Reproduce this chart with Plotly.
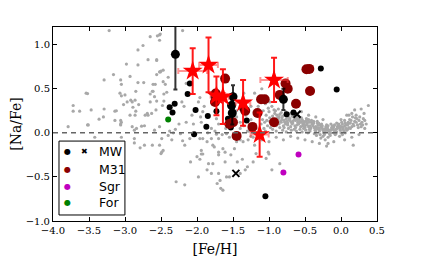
import plotly.graph_objects as go

# ---------------- data ----------------
# Milky Way field stars (grey dots): (Fe/H, Na/Fe)
field_pairs = [
    (-3.22,1.16),(-2.65,1.09),(-2.52,1.11),(-2.52,1.05),(-2.75,0.99),(-2.82,0.94),(-2.68,0.83),(-2.56,0.83),
    (-2.98,0.78),(-2.82,0.77),(-2.52,0.69),(-2.50,0.70),(-2.56,0.66),(-3.16,0.66),(-2.93,0.64),(-3.29,0.60),
    (-3.06,0.60),(-3.05,0.55),(-2.82,0.57),(-2.74,0.57),(-2.61,0.55),(-2.47,0.58),(-2.85,0.47),(-2.62,0.47),
    (-3.54,0.45),(-3.07,0.45),(-3.05,0.42),(-3.00,0.43),(-2.65,0.44),(-2.59,0.41),(-2.97,0.35),(-2.92,0.37),
    (-2.90,0.35),(-2.86,0.37),(-2.65,0.35),(-3.02,0.32),(-2.81,0.32),(-2.89,0.29),(-2.48,0.31),(-2.57,0.26),
    (-3.72,0.245),(-3.47,0.26),(-3.29,0.27),(-3.14,0.245),(-3.12,0.25),(-2.85,0.245),(-2.93,0.20),(-2.86,0.20),
    (-2.69,0.22),(-2.68,0.20),(-2.63,0.22),(-2.72,0.20),(-3.30,0.18),(-3.36,0.155),(-3.14,0.14),(-3.06,0.14),
    (-3.06,0.10),(-3.51,0.09),(-3.52,0.09),(-3.05,0.12),(-3.06,0.09),(-2.77,0.075),(-2.84,0.05),(-2.87,0.03),
    (-2.90,0.07),(-2.73,0.08),(-3.79,0.07),(-2.59,0.03),(-2.52,0.07),(-3.42,-0.05),(-3.05,-0.05),(-2.87,-0.065),
    (-2.87,-0.115),(-2.73,-0.14),(-2.62,-0.14),(-2.79,-0.17),(-2.50,-0.235),(-2.52,-0.14),(-3.63,0.245),
    (-3.72,0.31),(-3.52,0.445),
    (-2.20,1.16),(-2.51,1.12),(-2.55,1.10),(-2.56,0.82),(-2.51,0.69),(-2.47,0.71),(-2.40,0.63),(-2.44,0.55),
    (-2.58,0.55),(-2.61,0.47),(-2.46,0.44),(-2.42,0.46),(-2.56,0.36),(-2.46,0.36),(-2.21,0.35),(-1.96,0.40),
    (-2.07,0.20),(-1.92,0.24),(-1.73,0.16),(-1.94,0.12),(-2.15,0.56),
    (-2.49,-0.22),(-2.47,-0.20),(-2.49,-0.065),(-2.40,-0.03),(-2.38,0.02),(-2.33,0.00),(-2.35,-0.08),
    (-2.30,0.04),(-2.23,-0.01),(-2.20,-0.09),(-2.17,-0.14),(-2.10,-0.065),(-2.29,-0.555),(-2.17,-0.59),
    (-2.09,-0.33),(-2.00,-0.27),(-1.98,-0.50),(-1.96,-0.30),(-1.94,-0.20),(-1.94,-0.24),(-1.92,-0.24),
    (-1.86,-0.10),(-1.96,-0.065),(-1.92,-0.065),(-1.84,-0.35),(-1.78,-0.35),(-1.80,-0.46),(-1.78,-0.14),
    (-1.76,-0.16),(-1.73,-0.015),(-1.70,-0.065),(-1.70,-0.22),(-1.70,-0.25),(-1.64,-0.18),(-1.59,-0.01),
    (-1.61,-0.22),(-1.61,-0.33),(-1.70,-0.46),(-1.72,-0.575),(-1.67,-0.63),(-1.64,-0.65),(-1.68,-0.54),
    (-1.53,-0.25),(-1.48,-0.18),(-1.44,-0.33),(-1.37,-0.30),(-1.40,-0.46),(-1.33,-0.42),(-1.30,-0.385),
    (-1.22,-0.33),(-1.18,-0.235),(-1.29,-0.08),(-1.36,-0.10),(-1.40,-0.08),(-1.20,-0.14),(-1.14,-0.065),
    (-1.25,-0.04),(-1.80,-0.065),(-1.59,-0.50),(-1.04,-0.29),(-1.01,-0.22),(-1.86,-0.42),(-1.55,-0.50),
    (-0.85,-0.35),(-0.96,-0.42),(-1.00,-0.24),
    (-1.98,0.35),(-1.90,0.30),(-1.80,0.05),(-1.70,0.10),(-1.60,0.05),(-1.45,0.25),(-1.40,0.05),(-1.30,0.02),
    (-1.25,0.30),(-1.20,0.45),(-1.10,0.50),(-1.35,0.45),(-2.18,0.30),(-2.25,0.10),(-2.15,0.12),(-2.05,0.10),
    (-1.95,0.18),(-1.85,0.00),(-1.75,0.02),(-1.65,-0.02),(-1.55,-0.05),(-1.45,-0.10),
    (-1.20,0.10),(-1.18,0.05),(-1.25,0.15),(-1.15,0.30),(-1.22,-0.05),(-1.28,0.02),(-1.35,0.08),(-1.40,0.12),
    (-1.45,0.18),(-1.32,0.20),(-1.05,0.33),(-0.99,0.35),(-1.10,-0.08),(-1.00,-0.10),(-0.90,-0.05),(-0.80,-0.08),
    (-0.70,-0.04),(-0.60,-0.06),(-0.50,-0.08),(-0.40,-0.10),(-0.30,-0.12),(-0.20,-0.15),(-0.10,-0.10),
    (0.05,-0.08),(0.15,-0.05),(0.25,-0.02),(-0.55,0.24),(-0.45,0.20),(-0.35,0.18),(-0.25,0.15),(0.00,0.15),
    (0.28,0.27),(0.33,0.05),(-0.18,-0.12),(0.08,0.20),(0.19,0.26),(0.17,-0.14),
    (-1.13,0.18),(-1.11,0.10),(-1.12,0.22),
    (-1.09,0.15),(-1.07,0.05),(-1.08,0.25),(-1.06,0.12),
    (-1.04,0.20),(-1.02,0.08),(-1.03,0.14),(-1.01,0.28),(-1.05,0.02),
    (-0.99,0.17),(-0.97,0.11),(-1.00,0.24),(-0.98,0.06),(-0.96,0.30),(-0.99,0.13),
    (-0.95,0.19),(-0.93,0.09),(-0.94,0.15),(-0.92,0.22),(-0.95,0.04),(-0.93,0.26),
    (-0.91,0.14),(-0.89,0.20),(-0.90,0.08),(-0.88,0.17),(-0.91,0.25),(-0.89,0.11),(-0.90,0.02),
    (-0.87,0.16),(-0.85,0.21),(-0.86,0.10),(-0.84,0.13),(-0.87,0.27),(-0.85,0.06),(-0.86,0.18),
    (-0.83,0.12),(-0.81,0.19),(-0.82,0.15),(-0.80,0.08),(-0.83,0.23),(-0.81,0.03),(-0.82,0.17),
    (-0.79,0.14),(-0.77,0.10),(-0.78,0.20),(-0.76,0.16),(-0.79,0.06),(-0.77,0.24),(-0.78,0.12),(-0.76,0.01),
    (-0.75,0.13),(-0.73,0.18),(-0.74,0.09),(-0.72,0.15),(-0.75,0.21),(-0.73,0.05),(-0.74,0.11),
    (-0.71,0.16),(-0.69,0.12),(-0.70,0.07),(-0.68,0.19),(-0.71,0.14),(-0.69,0.03),(-0.70,0.22),(-0.68,0.10),
    (-0.67,0.11),(-0.65,0.15),(-0.66,0.18),(-0.64,0.08),(-0.67,0.13),(-0.65,0.04),(-0.66,0.20),
    (-0.63,0.14),(-0.61,0.09),(-0.62,0.17),(-0.60,0.12),(-0.63,0.06),(-0.61,0.19),(-0.62,0.02),(-0.60,0.15),
    (-0.59,0.10),(-0.57,0.13),(-0.58,0.16),(-0.56,0.07),(-0.59,0.19),(-0.57,0.04),(-0.58,0.11),
    (-0.55,0.12),(-0.53,0.08),(-0.54,0.15),(-0.52,0.05),(-0.55,0.17),(-0.53,0.10),(-0.54,0.01),(-0.52,0.13),
    (-0.51,0.09),(-0.49,0.13),(-0.50,0.06),(-0.48,0.16),(-0.51,0.11),(-0.49,0.03),(-0.50,0.08),
    (-0.47,0.11),(-0.45,0.07),(-0.46,0.14),(-0.44,0.04),(-0.47,0.09),(-0.45,0.15),(-0.46,0.00),(-0.44,0.12),
    (-0.43,0.08),(-0.41,0.12),(-0.42,0.05),(-0.40,0.10),(-0.43,0.02),(-0.41,0.14),(-0.42,0.06),
    (-0.39,0.10),(-0.37,0.06),(-0.38,0.13),(-0.36,0.03),(-0.39,0.08),(-0.37,-0.01),(-0.38,0.11),(-0.36,0.05),
    (-0.35,0.07),(-0.33,0.11),(-0.34,0.04),(-0.32,0.09),(-0.35,0.01),(-0.33,0.13),(-0.34,-0.03),(-0.32,0.06),
    (-0.31,0.05),(-0.29,0.09),(-0.30,0.02),(-0.28,0.07),(-0.31,0.11),(-0.29,-0.02),(-0.30,0.04),(-0.28,-0.06),
    (-0.27,0.06),(-0.25,0.03),(-0.26,0.08),(-0.24,0.00),(-0.27,0.10),(-0.25,-0.04),(-0.26,0.05),(-0.24,0.01),
    (-0.23,0.04),(-0.21,0.07),(-0.22,0.01),(-0.20,0.09),(-0.23,-0.02),(-0.21,0.05),(-0.22,-0.08),(-0.20,0.03),
    (-0.19,0.05),(-0.17,0.02),(-0.18,0.08),(-0.16,-0.01),(-0.19,0.06),(-0.17,0.03),(-0.18,-0.05),
    (-0.15,0.03),(-0.13,0.06),(-0.14,0.00),(-0.12,0.08),(-0.15,-0.03),(-0.13,0.04),(-0.14,0.10),
    (-0.11,0.05),(-0.09,0.02),(-0.10,0.07),(-0.08,-0.02),(-0.11,0.04),(-0.09,0.09),(-0.10,0.00),
    (-0.07,0.04),(-0.05,0.07),(-0.06,0.01),(-0.04,0.09),(-0.07,-0.01),(-0.05,0.05),(-0.06,0.11),
    (-0.03,0.06),(-0.01,0.03),(-0.02,0.08),(0.00,0.00),(-0.03,0.10),(-0.01,0.05),(-0.02,-0.04),
    (0.01,0.07),(0.03,0.04),(0.02,0.10),(0.04,0.02),(0.01,0.12),(0.03,0.06),(0.02,-0.02),
    (0.05,0.08),(0.07,0.05),(0.06,0.11),(0.08,0.03),(0.05,0.14),(0.07,0.09),(0.06,0.00),
    (0.09,0.09),(0.11,0.06),(0.10,0.12),(0.12,0.15),(0.09,0.04),(0.11,0.20),(0.10,0.10),
    (0.13,0.11),(0.15,0.07),(0.14,0.14),(0.16,0.18),(0.13,0.05),(0.15,0.22),
    (0.17,0.10),(0.19,0.13),(0.18,0.08),(0.20,0.17),
    (0.21,0.12),(0.23,0.09),(0.22,0.16),(0.24,0.06),(0.21,0.20),
    (0.25,0.14),(0.27,0.10),(0.26,0.18),(0.28,0.07),
    (0.29,0.12),(0.31,0.16),(0.30,0.09),(0.32,0.22),
    (0.33,0.14),(0.35,0.10),(0.38,0.31),
]
field_feh = [p[0] for p in field_pairs]
field_nafe = [p[1] for p in field_pairs]

# MW globular clusters, small filled circles
mw_feh = [-0.28, -0.06, -2.10, -2.13, -2.38, -2.34, -2.31, -2.02, -1.85, -1.87, -2.04,
          -1.05, -0.755, -0.66, -1.31, -1.53, -1.73, -1.77, -1.37, -1.57]
mw_nafe = [0.73, 0.49, 0.56, 0.44, 0.29, 0.23, 0.33, 0.26, 0.19, 0.07, -0.015,
           -0.72, 0.21, 0.23, 0.14, 0.06, 0.245, 0.41, 0.27, 0.16]

# MW clusters with error bars (large filled circles)
mwbig_feh = [-2.30, -1.50, -1.52, -1.51, -0.80]
mwbig_nafe = [0.89, 0.41, 0.31, 0.225, 0.38]
mwbig_err = [0.40, 0.13, 0.13, 0.13, 0.12]

# MW clusters, crosses
mwx_feh = [-1.46, -0.61]
mwx_nafe = [-0.46, 0.21]

# M31 clusters (integrated light)
m31_feh = [-0.48, -0.44, -0.43, -0.77, -0.74, -0.85, -0.625, -0.93, -1.11, -1.06, -1.16,
           -1.23, -1.45, -1.55, -1.61, -1.75, -1.74, -1.33, -1.50]
m31_nafe = [0.72, 0.725, 0.475, 0.56, 0.50, 0.43, 0.33, 0.12, 0.38, 0.38, 0.225,
            0.067, -0.035, 0.10, 0.615, 0.35, 0.445, 0.25, 0.12]

# Sgr and Fornax
sgr_feh = [-0.59, -0.80]
sgr_nafe = [-0.245, -0.45]
for_feh = [-2.40]
for_nafe = [0.15]

# red stars with error bars
star_feh = [-2.06, -1.84, -1.73, -1.64, -1.36, -1.13, -0.93]
star_nafe = [0.70, 0.77, 0.42, 0.41, 0.34, -0.02, 0.60]
star_xerr = [0.20, 0.13, 0.08, 0.08, 0.10, 0.125, 0.19]
star_yerr = [0.26, 0.31, 0.22, 0.31, 0.26, 0.25, 0.25]

legend_labels = ["MW", "M31", "Sgr", "For"]

# ---------------- figure ----------------
fig = go.Figure()

fig.add_trace(go.Scatter(x=field_feh, y=field_nafe, mode="markers",
                         marker=dict(size=3.2, color="#a8a8a8", line=dict(width=0)),
                         showlegend=False, hoverinfo="skip"))

fig.add_hline(y=0, line=dict(color="#666666", width=1.5, dash="5px,4px"), layer="above")

fig.add_trace(go.Scatter(x=mw_feh, y=mw_nafe, mode="markers",
                         marker=dict(size=6, color="black", line=dict(width=0)),
                         showlegend=False))

fig.add_trace(go.Scatter(x=m31_feh, y=m31_nafe, mode="markers",
                         marker=dict(size=10, color="#8b0000", line=dict(width=0)),
                         showlegend=False))

fig.add_trace(go.Scatter(x=mwbig_feh, y=mwbig_nafe, mode="markers",
                         error_y=dict(type="data", array=mwbig_err, color="rgba(0,0,0,0.8)",
                                      thickness=2, width=2),
                         marker=dict(size=9, color="black", line=dict(width=0)),
                         showlegend=False))

fig.add_trace(go.Scatter(x=mwx_feh, y=mwx_nafe, mode="markers",
                         marker=dict(size=7, color="black", symbol="x-thin",
                                     line=dict(width=2, color="black")),
                         showlegend=False))

fig.add_trace(go.Scatter(x=sgr_feh, y=sgr_nafe, mode="markers",
                         marker=dict(size=6, color="#bf00bf", line=dict(width=0)),
                         showlegend=False))
fig.add_trace(go.Scatter(x=for_feh, y=for_nafe, mode="markers",
                         marker=dict(size=6, color="#008000", line=dict(width=0)),
                         showlegend=False))

fig.add_trace(go.Scatter(x=star_feh, y=star_nafe, mode="markers",
                         error_x=dict(type="data", array=star_xerr, color="rgba(255,60,60,0.55)",
                                      thickness=2, width=3),
                         error_y=dict(type="data", array=star_yerr, color="rgba(255,0,0,0.9)",
                                      thickness=2, width=3),
                         marker=dict(size=15, color="red", symbol="star", line=dict(width=0)),
                         showlegend=False))

# hand-made legend box
fig.add_shape(type="rect", xref="paper", yref="paper", x0=0.0185, x1=0.222, y0=0.031, y1=0.412,
              line=dict(color="black", width=1), fillcolor="white", layer="above")
rows_y = [0.356, 0.268, 0.180, 0.094]
dot_colors = ["black", "#8b0000", "#bf00bf", "#008000"]
for lab, yy, col in zip(legend_labels, rows_y, dot_colors):
    fig.add_annotation(x=0.045, y=yy, xref="paper", yref="paper", text="●", showarrow=False,
                       font=dict(size=8, color=col, family="DejaVu Sans"), xanchor="center", yanchor="middle")
    fig.add_annotation(x=0.137, y=yy, xref="paper", yref="paper", text=lab, showarrow=False,
                       font=dict(size=12.5, color="black", family="DejaVu Sans"), xanchor="left", yanchor="middle")
fig.add_annotation(x=0.096, y=rows_y[0], xref="paper", yref="paper", text="✖", showarrow=False,
                   font=dict(size=8, color="black", family="DejaVu Sans"), xanchor="center", yanchor="middle")

axis_common = dict(showline=True, linecolor="black", linewidth=1, mirror="ticks",
                   ticks="inside", ticklen=4, tickcolor="black", tickwidth=1,
                   showgrid=False, zeroline=False,
                   tickfont=dict(family="DejaVu Serif", size=10, color="black"))

fig.update_xaxes(range=[-4.0, 0.5], tickvals=[-4.0, -3.5, -3.0, -2.5, -2.0, -1.5, -1.0, -0.5, 0.0, 0.5],
                 tickformat=".1f",
                 title=dict(text="[Fe/H]", font=dict(family="DejaVu Serif", size=14, color="black"), standoff=9),
                 **axis_common)
fig.update_yaxes(range=[-1.0, 1.2], tickvals=[-1.0, -0.5, 0.0, 0.5, 1.0], tickformat=".1f",
                 title=dict(text="[Na/Fe]", font=dict(family="DejaVu Serif", size=14, color="black"), standoff=3),
                 **axis_common)

# the page body adds an 8px offset, so margins are shifted to keep the plot area in place
fig.update_layout(width=421, height=261, margin=dict(l=45, r=52, t=19, b=48, autoexpand=False),
                  plot_bgcolor="white", paper_bgcolor="white", showlegend=False)

fig.write_html("out.html")
